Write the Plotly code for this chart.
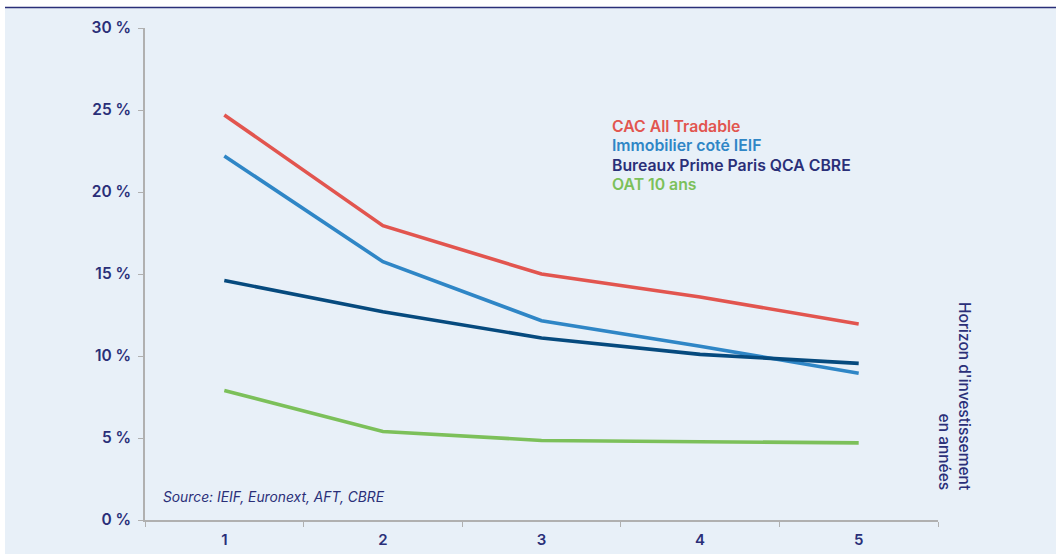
import plotly.graph_objects as go

# Investment horizon (years) and annualised volatility (%) per asset class
horizons = ["1", "2", "3", "4", "5"]
series_names = ["CAC All Tradable", "Immobilier coté IEIF", "Bureaux Prime Paris QCA CBRE", "OAT 10 ans"]
cac_all_tradable = [24.7, 17.95, 15.0, 13.6, 11.95]
immobilier_ieif = [22.2, 15.75, 12.15, 10.6, 8.95]
bureaux_prime = [14.6, 12.7, 11.1, 10.1, 9.55]
oat_10_ans = [7.9, 5.4, 4.85, 4.8, 4.7]
y_ticks = [0, 5, 10, 15, 20, 25, 30]
y_tick_labels = ["0 %", "5 %", "10 %", "15 %", "20 %", "25 %", "30 %"]

line_colors = ["#e2554f", "#2f86c6", "#064a7e", "#7cc05a"]
label_colors = ["#e2554f", "#2f86c6", "#2a2f78", "#7cc05a"]
navy = "#2a2f78"
bg = "#e8f0f8"
font_family = "Inter, Lato, sans-serif"

fig = go.Figure()
for name, values, color in zip(series_names,
                               [cac_all_tradable, immobilier_ieif, bureaux_prime, oat_10_ans],
                               line_colors):
    fig.add_trace(go.Scatter(x=horizons, y=values, name=name, mode="lines",
                             line=dict(color=color, width=3.6), showlegend=False))

# Pixel-to-paper helpers for the 1056x554 canvas
L, R, T, B = 145, 118, 28, 34
W, H = 1056, 554
pw, ph = W - L - R, H - T - B


def px(x):
    return (x - L) / pw


def py(y):
    return (H - B - y) / ph


shapes = [
    dict(type="rect", xref="paper", yref="paper", x0=px(5), x1=px(W + 5),
         y0=py(H + 5), y1=py(8), fillcolor=bg, line=dict(width=0), layer="below"),
    dict(type="line", xref="paper", yref="paper", x0=px(5), x1=px(W + 5),
         y0=py(7.5), y1=py(7.5), line=dict(color="#2a2f78", width=1.5)),
]

annotations = []
# Text legend
for i, (name, color) in enumerate(zip(series_names, label_colors)):
    annotations.append(dict(text=name, xref="paper", yref="paper", x=px(610),
                            y=py(126 + i * 19.6), xanchor="left", yanchor="middle",
                            showarrow=False,
                            font=dict(family=font_family, size=15.8, color=color, weight=600)))
# Axis caption on the right
annotations.append(dict(text="Horizon d'investissement<br>en années", xref="paper", yref="paper",
                        x=px(955), y=py(396), xanchor="center", yanchor="middle",
                        textangle=90, align="right", showarrow=False,
                        font=dict(family=font_family, size=15.5, color=navy, weight=500)))
# Source note
annotations.append(dict(text="<i>Source: IEIF, Euronext, AFT, CBRE</i>", xref="paper", yref="paper",
                        x=px(161), y=py(497), xanchor="left", yanchor="middle",
                        showarrow=False,
                        font=dict(family=font_family, size=13.8, color=navy)))

fig.update_layout(
    width=W, height=H,
    margin=dict(l=L, r=R, t=T, b=B, autoexpand=False),
    paper_bgcolor="white",
    plot_bgcolor=bg,
    font=dict(family=font_family, color=navy),
    shapes=shapes,
    annotations=annotations,
    xaxis=dict(type="category", range=[-0.5, 4.5], tickson="boundaries", ticks="outside",
               ticklen=5, tickcolor="#b0b0b0", showline=True, linecolor="#b0b0b0",
               linewidth=1.5, showgrid=False, zeroline=False, automargin=False,
               ticklabelstandoff=5,
               tickfont=dict(family=font_family, size=15, color=navy, weight=600)),
    yaxis=dict(range=[0, 30], tickvals=y_ticks, ticktext=y_tick_labels, ticks="outside",
               ticklen=5, tickcolor="#b0b0b0", showline=True, linecolor="#b0b0b0",
               linewidth=1.5, showgrid=False, zeroline=False, ticklabelstandoff=4,
               automargin=False,
               tickfont=dict(family=font_family, size=15.5, color=navy, weight=600)),
)

fig.write_html("out.html")
